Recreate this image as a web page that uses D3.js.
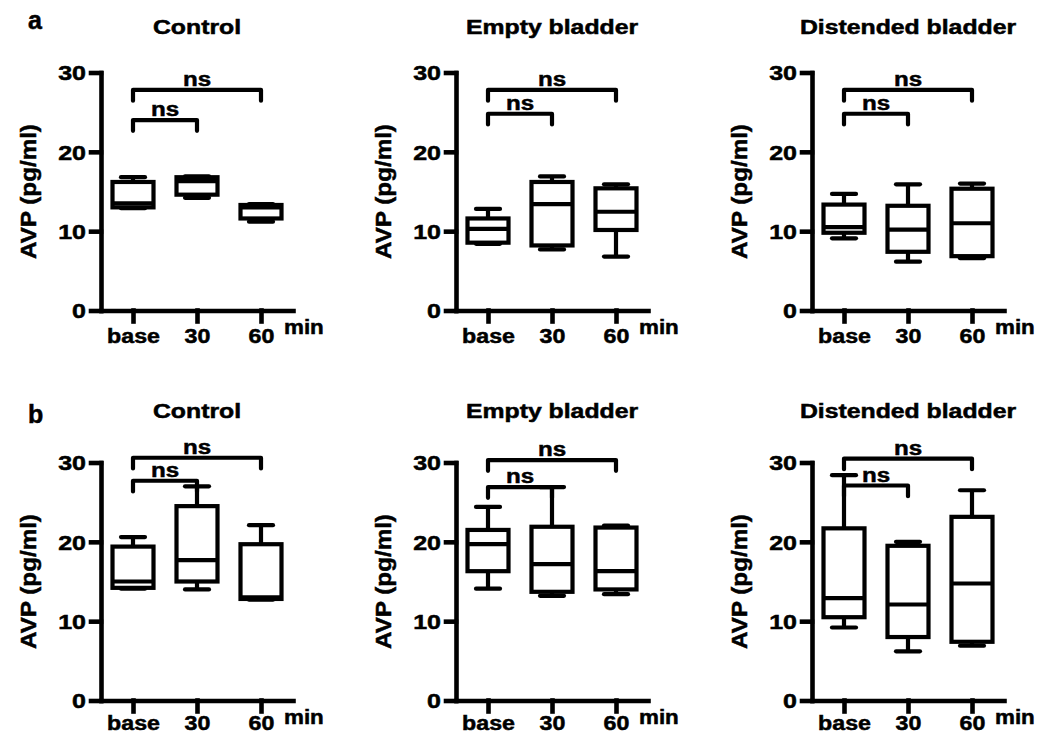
<!DOCTYPE html>
<html><head><meta charset="utf-8">
<script src="https://cdn.jsdelivr.net/npm/d3@7"></script>
<style>
body{margin:0;background:#fff}
text{font-family:"Liberation Sans",Arial,sans-serif;font-weight:bold;fill:#000;stroke:#000;stroke-width:0.5px}
</style>
</head><body>
<svg id="c" width="1037" height="735"></svg>
<script>
// ---------- data ----------
const timepoints = ["base", "30", "60"];
const panelTitles = ["Control", "Empty bladder", "Distended bladder"];
const rowLetters = ["a", "b"];
const yTicks = [0, 10, 20, 30];
const yLabel = "AVP (pg/ml)";
const xUnit = "min";
const sigLabel = "ns";

// box statistics per time point: [min, q1, median, q3, max]
const aControl   = [[12.9, 13.0, 13.5, 16.2, 16.8], [14.2, 14.6, 16.3, 16.8, 16.9], [11.2, 11.6, 13.0, 13.3, 13.4]];
const aEmpty     = [[8.4, 8.55, 10.3, 11.6, 12.8], [7.7, 8.2, 13.4, 16.2, 16.9], [6.8, 10.15, 12.45, 15.4, 15.9]];
const aDistended = [[9.1, 9.8, 10.5, 13.35, 14.7], [6.15, 7.4, 10.2, 13.2, 15.9], [6.6, 6.85, 11.0, 15.35, 16.0]];
const bControl   = [[14.1, 14.2, 15.0, 19.4, 20.6], [14.0, 15.0, 17.7, 24.5, 27.0], [12.7, 12.8, 13.0, 19.7, 22.1]];
const bEmpty     = [[14.1, 16.3, 19.7, 21.5, 24.4], [13.2, 13.7, 17.2, 21.9, 26.9], [13.4, 14.0, 16.3, 21.8, 22.05]];
const bDistended = [[9.2, 10.5, 12.9, 21.7, 28.4], [6.2, 8.0, 12.1, 19.5, 20.0], [6.9, 7.4, 14.75, 23.15, 26.5]];

// significance brackets: [from index, to index, level]
const aControlBr   = [[0, 1, 24.0], [0, 2, 27.8]];
const aEmptyBr     = [[0, 1, 24.8], [0, 2, 27.8]];
const aDistendedBr = [[0, 1, 24.8], [0, 2, 27.8]];
const bControlBr   = [[0, 1, 27.7], [0, 2, 30.6]];
const bEmptyBr     = [[0, 1, 26.9], [0, 2, 30.3]];
const bDistendedBr = [[0, 1, 27.1], [0, 2, 30.5]];
const bracketLeg = 1.35;

// ---------- layout ----------
const rows = [[aControl, aEmpty, aDistended], [bControl, bEmpty, bDistended]];
const brs  = [[aControlBr, aEmptyBr, aDistendedBr], [bControlBr, bEmptyBr, bDistendedBr]];
const colX = [101, 456, 812];
const rowRange = [[310.5, 72.5], [700.5, 462.5]];
const titleY = [34, 418];
const letterY = [29, 423];
const xLabelOffset = [33, 29.5];
const SW = 4.2;

const svg = d3.select("#c");

rows.forEach((row, r) => {
  svg.append("text").attr("x", 28).attr("y", letterY[r])
    .style("font-size", "25px").text(rowLetters[r]);

  row.forEach((stats, c) => {
    const x0 = colX[c];
    const y = d3.scaleLinear().domain([0, 30]).range(rowRange[r]);
    const x = d3.scalePoint().domain(timepoints).range([x0, x0 + 192]).padding(0.5);
    const y0 = rowRange[r][0];
    const g = svg.append("g");

    // title
    g.append("text")
      .attr("transform", `translate(${x0 + 96},${titleY[r]}) scale(1.24,1)`)
      .attr("text-anchor", "middle").style("font-size", "20px")
      .text(panelTitles[c]);

    // y axis
    const ya = g.append("g").attr("transform", `translate(${x0},0)`)
      .call(d3.axisLeft(y).tickValues(yTicks).tickSize(10).tickSizeOuter(0));
    ya.selectAll("text").attr("x", -12).attr("dy", "0.36em")
      .attr("transform", "scale(1.25,1)")
      .style("font-size", "20px").style("font-family", '"Liberation Sans",Arial,sans-serif');

    // x axis
    const xa = g.append("g").attr("transform", `translate(0,${y0})`)
      .call(d3.axisBottom(x).tickSize(11).tickSizeOuter(0));
    xa.selectAll("text").attr("y", xLabelOffset[r]).attr("dy", 0).attr("x", 0)
      .attr("transform", "scale(1.16,1)")
      .style("font-size", "20px").style("font-family", '"Liberation Sans",Arial,sans-serif');

    [ya, xa].forEach(a => {
      a.selectAll("path,line").attr("stroke", "#000").attr("stroke-width", 4.6)
        .attr("stroke-linecap", "square");
    });

    // unit label
    g.append("text")
      .attr("transform", `translate(${x0 + 183},${y0 + 23}) scale(1.12,1)`)
      .style("font-size", "20px").text(xUnit);

    // y label
    g.append("text")
      .attr("transform", `translate(${x0 - 65},${(rowRange[r][0] + rowRange[r][1]) / 2}) rotate(-90) scale(1.1,1)`)
      .attr("text-anchor", "middle").style("font-size", "22px").text(yLabel);

    // boxes
    const bw = 41, cw = 24;
    stats.forEach((s, i) => {
      const cx = x(timepoints[i]);
      const [mn, q1, md, q3, mx] = s;
      const bg = g.append("g").attr("stroke", "#000").attr("stroke-width", SW).attr("fill", "none");
      bg.append("line").attr("x1", cx).attr("x2", cx).attr("y1", y(mx)).attr("y2", y(q3));
      bg.append("line").attr("x1", cx).attr("x2", cx).attr("y1", y(q1)).attr("y2", y(mn));
      bg.append("line").attr("x1", cx - cw / 2).attr("x2", cx + cw / 2).attr("y1", y(mx)).attr("y2", y(mx))
        .attr("stroke-linecap", "round");
      bg.append("line").attr("x1", cx - cw / 2).attr("x2", cx + cw / 2).attr("y1", y(mn)).attr("y2", y(mn))
        .attr("stroke-linecap", "round");
      bg.append("rect").attr("x", cx - bw / 2).attr("y", y(q3)).attr("width", bw)
        .attr("height", y(q1) - y(q3)).attr("fill", "#fff");
      bg.append("line").attr("x1", cx - bw / 2).attr("x2", cx + bw / 2).attr("y1", y(md)).attr("y2", y(md));
    });

    // brackets
    brs[r][c].forEach(([a, b, v]) => {
      const xa1 = x(timepoints[a]), xb1 = x(timepoints[b]);
      g.append("path")
        .attr("d", `M${xa1},${y(v - bracketLeg)}V${y(v)}H${xb1}V${y(v - bracketLeg)}`)
        .attr("fill", "none").attr("stroke", "#000").attr("stroke-width", SW)
        .attr("stroke-linecap", "round").attr("stroke-linejoin", "round");
      g.append("text")
        .attr("transform", `translate(${(xa1 + xb1) / 2},${y(v) - 4}) scale(1.15,1)`)
        .attr("text-anchor", "middle").style("font-size", "21px").text(sigLabel);
    });
  });
});
</script>
</body></html>
